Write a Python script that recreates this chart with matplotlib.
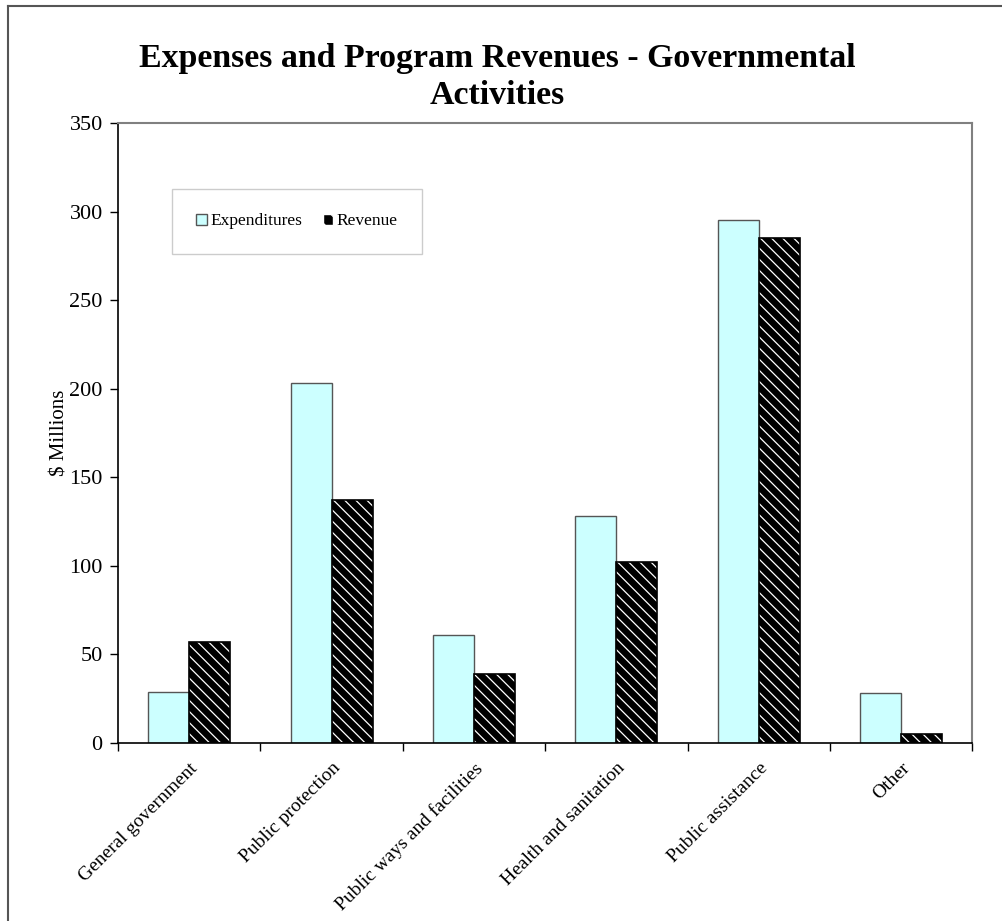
import matplotlib
matplotlib.use("Agg")
import matplotlib.pyplot as plt
import numpy as np
from matplotlib.lines import Line2D
from matplotlib.patches import Patch

categories = ["General government", "Public protection", "Public ways and facilities",
              "Health and sanitation", "Public assistance", "Other"]
expenditures = [29, 203, 61, 128, 295, 28]
revenue = [57, 137, 39, 102, 285, 5]
yticks = [0, 50, 100, 150, 200, 250, 300, 350]

plt.rcParams['font.family'] = ['Liberation Serif', 'DejaVu Serif']
plt.rcParams['hatch.linewidth'] = 0.9

W, H = 1003, 921
fig = plt.figure(figsize=(W / 100, H / 100), dpi=100)
ax = fig.add_axes([118 / W, 1 - 743 / H, (972.5 - 118) / W, (743 - 123) / H])

x = np.arange(len(categories))
bw = 0.288
ax.bar(x - bw / 2, expenditures, width=bw, color='#CCFFFF', edgecolor='#555555', linewidth=1.0, zorder=2)
ax.bar(x + bw / 2, revenue, width=bw, color='black', edgecolor='white', hatch='\\\\\\', linewidth=0, zorder=2)
ax.bar(x + bw / 2, revenue, width=bw, fill=False, edgecolor='black', linewidth=1.2, zorder=3)

ax.set_xlim(-0.5, len(categories) - 0.5)
ax.set_ylim(0, 350)
ax.set_yticks(yticks)
ax.set_yticklabels([str(v) for v in yticks], fontsize=16)
ax.set_xticks(np.arange(len(categories) + 1) - 0.5)
ax.set_xticklabels([])
ax.set_xticks(x, minor=True)
ax.set_xticklabels(categories, minor=True, rotation=45, ha='right', va='top',
                   rotation_mode='anchor', fontsize=14)
ax.tick_params(axis='x', which='minor', length=0, pad=12)
ax.tick_params(axis='x', which='major', length=6, width=1, direction='out', color='black')
ax.tick_params(axis='y', length=6, width=1, direction='out', pad=5)

for s in ['top', 'right']:
    ax.spines[s].set_color('#808080')
    ax.spines[s].set_linewidth(1.5)
for s in ['left', 'bottom']:
    ax.spines[s].set_color('black')
    ax.spines[s].set_linewidth(1.2)

ax.set_ylabel("$ Millions", fontsize=15, labelpad=0)

fig.text(497 / W, 1 - 58 / H, "Expenses and Program Revenues - Governmental",
         ha='center', va='center', fontsize=24.4, fontweight='bold')
fig.text(497 / W, 1 - 96 / H, "Activities",
         ha='center', va='center', fontsize=24.4, fontweight='bold')

handles = [Patch(facecolor='#CCFFFF', edgecolor='#555555'),
           Patch(facecolor='black', edgecolor='white', hatch='\\\\')]
leg = ax.legend(handles, ["Expenditures", "Revenue"], ncol=2, fontsize=12.5,
                loc='upper left', bbox_to_anchor=((172 - 118) / (972.5 - 118), (743 - 189) / 620),
                borderaxespad=0, frameon=True, fancybox=False, borderpad=1.4, columnspacing=1.2,
                handlelength=0.6, handleheight=0.6, handletextpad=0.2)
leg.get_frame().set_edgecolor('#c0c0c0')
leg.get_frame().set_linewidth(1.0)

# figure border (top and left visible)
fig.add_artist(Line2D([8 / W, 8 / W], [0, 1 - 6 / H], color='#555555', lw=1.5, transform=fig.transFigure))
fig.add_artist(Line2D([8 / W, 1002 / W], [1 - 6 / H, 1 - 6 / H], color='#555555', lw=1.5, transform=fig.transFigure))

fig.savefig("out.png", dpi=100)
